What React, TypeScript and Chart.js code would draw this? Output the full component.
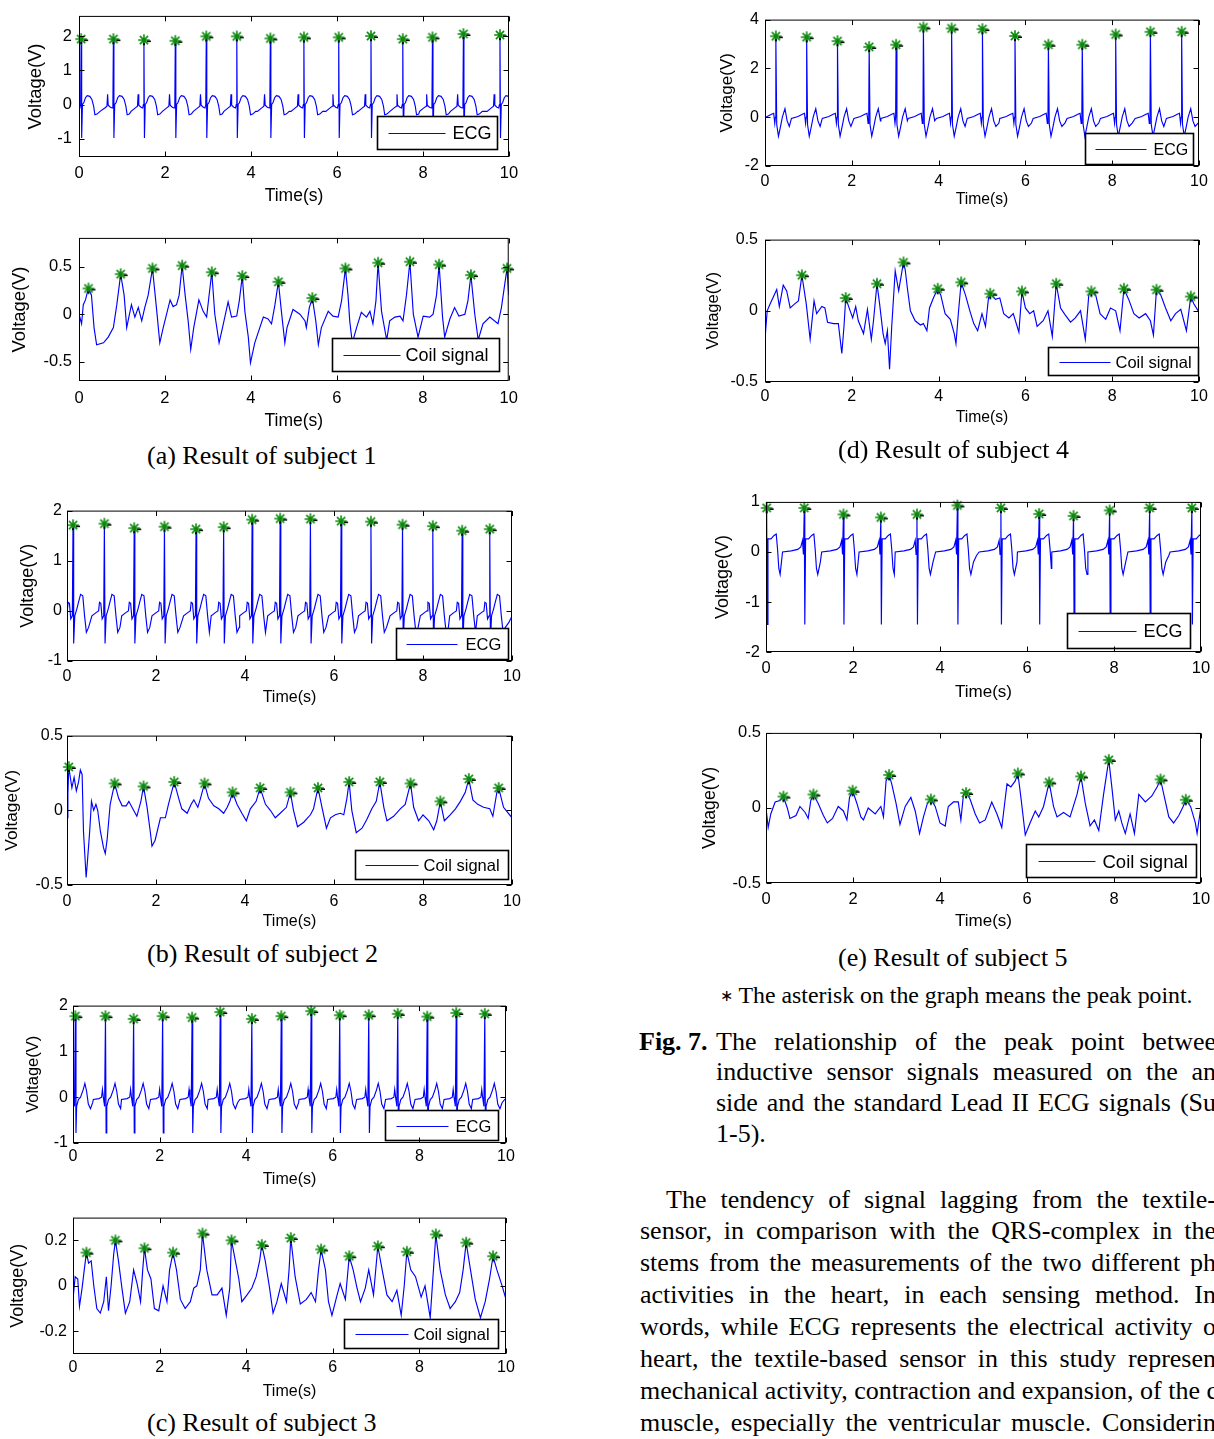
import React, { useEffect, useRef } from "react";
import { Chart, registerables } from "chart.js";

Chart.register(...registerables);

// ---------------- data ----------------
const timeTicks = [0, 2, 4, 6, 8, 10];

// Subject 1
const ecg1PeakTimes = [0.05, 0.80, 1.51, 2.24, 2.96, 3.67, 4.45, 5.23, 6.04, 6.79, 7.53, 8.22, 8.94, 9.79];
const ecg1PeakValues = [1.92, 1.92, 1.89, 1.87, 2.0, 2.0, 1.94, 1.97, 1.97, 2.01, 1.92, 1.97, 2.07, 2.04];
const ecg1BeatShape = [[-0.3, -0.2], [-0.2, -0.1], [-0.15, -0.05], [-0.135, 0.3], [-0.12, -0.02], [-0.07, -0.08], [-0.03, -0.1], [-0.012, 0.0], [0.012, -0.98], [0.03, 0.0], [0.06, 0.05], [0.1, 0.2], [0.14, 0.26], [0.2, 0.24], [0.25, 0.15], [0.29, -0.05], [0.32, -0.3], [0.37, -0.28], [0.44, -0.2], [0.55, -0.12], [0.65, -0.08]];
const ecg1YTicks = [-1, 0, 1, 2];
const coil1Signal = [[0, 0], [0.06, -0.10], [0.10, 0.10], [0.15, 0.15], [0.22, 0.27], [0.29, 0.20], [0.35, -0.14], [0.41, -0.32], [0.57, -0.30], [0.68, -0.24], [0.80, -0.14], [0.88, 0.10], [0.97, 0.42], [1.05, 0.20], [1.11, -0.14], [1.22, 0.10], [1.30, -0.03], [1.38, 0.07], [1.46, -0.07], [1.53, 0.07], [1.61, 0.20], [1.71, 0.48], [1.81, 0.03], [1.88, -0.30], [1.96, -0.14], [2.12, 0.15], [2.19, 0.08], [2.27, 0.10], [2.33, 0.20], [2.40, 0.51], [2.47, 0.20], [2.54, -0.07], [2.60, -0.37], [2.67, -0.14], [2.79, 0.15], [2.89, 0.03], [2.97, -0.03], [3.02, 0.17], [3.09, 0.44], [3.16, 0.0], [3.26, -0.30], [3.34, -0.14], [3.47, 0.13], [3.55, -0.03], [3.67, -0.02], [3.73, 0.14], [3.80, 0.40], [3.86, 0.03], [3.94, -0.24], [3.99, -0.51], [4.09, -0.30], [4.29, -0.03], [4.40, -0.05], [4.48, -0.10], [4.56, 0.10], [4.64, 0.34], [4.71, 0.03], [4.79, -0.30], [4.84, -0.14], [4.98, 0.05], [5.14, 0.0], [5.26, -0.07], [5.29, -0.14], [5.36, 0.07], [5.43, 0.17], [5.51, -0.07], [5.57, -0.32], [5.64, -0.14], [5.80, 0.03], [5.91, -0.02], [6.03, -0.03], [6.11, 0.14], [6.20, 0.48], [6.26, 0.20], [6.30, -0.07], [6.36, -0.30], [6.46, -0.14], [6.57, 0.02], [6.69, -0.03], [6.77, 0.03], [6.84, -0.10], [6.91, 0.14], [6.96, 0.54], [7.04, 0.03], [7.16, -0.27], [7.23, -0.07], [7.35, -0.03], [7.47, -0.02], [7.54, -0.07], [7.62, 0.20], [7.70, 0.55], [7.78, 0.0], [7.89, -0.24], [8.01, -0.02], [8.16, -0.03], [8.24, 0.0], [8.32, 0.20], [8.38, 0.52], [8.46, -0.03], [8.51, -0.24], [8.63, -0.05], [8.74, 0.07], [8.84, -0.02], [8.98, 0.0], [9.05, 0.14], [9.12, 0.41], [9.21, 0.0], [9.29, -0.27], [9.40, -0.10], [9.56, -0.03], [9.75, -0.10], [9.83, 0.07], [9.96, 0.48], [10.0, 0.20]];
const coil1PeakTimes = [0.22, 0.97, 1.71, 2.40, 3.09, 3.80, 4.64, 5.43, 6.20, 6.96, 7.70, 8.38, 9.12, 9.96];
const coil1PeakValues = [0.27, 0.42, 0.48, 0.51, 0.44, 0.40, 0.34, 0.17, 0.48, 0.54, 0.55, 0.52, 0.41, 0.48];
const coil1YTicks = [-0.5, 0, 0.5];

// Subject 2
const ecg2PeakTimes = [0.135, 0.84, 1.51, 2.19, 2.90, 3.52, 4.16, 4.79, 5.47, 6.16, 6.83, 7.54, 8.22, 8.88, 9.50];
const ecg2PeakValues = [1.71, 1.74, 1.65, 1.68, 1.63, 1.67, 1.82, 1.84, 1.83, 1.79, 1.78, 1.72, 1.69, 1.60, 1.63];
const ecg2BeatShape = [[-0.28, -0.1], [-0.18, -0.03], [-0.13, 0.0], [-0.11, 0.17], [-0.08, 0.15], [-0.05, -0.16], [-0.015, -0.1], [0.015, -0.65], [0.04, -0.1], [0.09, 0.05], [0.12, 0.16], [0.17, 0.33], [0.22, 0.3], [0.26, -0.1], [0.3, -0.43], [0.35, -0.33], [0.43, -0.23], [0.5, -0.1], [0.6, -0.03]];
const ecg2YTicks = [-1, 0, 1, 2];
const coil2Signal = [[0, -0.05], [0.02, 0.11], [0.04, 0.29], [0.11, 0.15], [0.16, 0.22], [0.21, 0.13], [0.26, 0.19], [0.30, 0.27], [0.34, 0.24], [0.37, -0.14], [0.43, -0.45], [0.46, -0.34], [0.51, -0.14], [0.55, 0.06], [0.60, 0.0], [0.65, 0.04], [0.69, 0.0], [0.75, -0.14], [0.82, -0.25], [0.86, -0.29], [0.90, -0.20], [0.97, 0.04], [1.07, 0.18], [1.16, 0.08], [1.24, 0.03], [1.33, 0.03], [1.39, 0.06], [1.46, 0.02], [1.57, -0.04], [1.66, 0.06], [1.72, 0.16], [1.80, 0.02], [1.87, -0.14], [1.91, -0.24], [1.98, -0.20], [2.10, -0.05], [2.21, -0.05], [2.28, 0.04], [2.41, 0.19], [2.51, 0.08], [2.58, 0.01], [2.70, -0.02], [2.79, 0.04], [2.85, 0.07], [2.94, 0.02], [3.00, 0.08], [3.09, 0.18], [3.18, 0.08], [3.30, 0.03], [3.41, 0.01], [3.52, -0.02], [3.60, 0.02], [3.66, 0.06], [3.72, 0.12], [3.82, 0.04], [3.93, -0.02], [4.03, -0.07], [4.12, 0.01], [4.25, 0.06], [4.34, 0.15], [4.46, 0.04], [4.57, 0.0], [4.68, -0.05], [4.79, -0.02], [4.93, 0.02], [5.02, 0.12], [5.09, 0.0], [5.18, -0.11], [5.32, -0.08], [5.47, -0.03], [5.54, 0.01], [5.64, 0.15], [5.73, 0.02], [5.83, -0.12], [5.92, -0.05], [6.03, -0.03], [6.14, -0.02], [6.22, -0.03], [6.29, 0.08], [6.34, 0.19], [6.40, 0.0], [6.50, -0.15], [6.63, -0.12], [6.74, -0.06], [6.85, 0.01], [6.95, 0.06], [7.03, 0.19], [7.12, 0.02], [7.19, -0.07], [7.34, -0.04], [7.49, 0.01], [7.60, 0.04], [7.72, 0.18], [7.79, 0.02], [7.90, -0.07], [8.00, -0.03], [8.13, -0.07], [8.24, -0.13], [8.31, -0.07], [8.39, 0.06], [8.48, -0.07], [8.61, -0.03], [8.73, 0.01], [8.84, 0.06], [8.95, 0.12], [9.03, 0.21], [9.12, 0.07], [9.23, 0.04], [9.36, 0.02], [9.50, 0.01], [9.57, -0.04], [9.66, 0.12], [9.70, 0.15], [9.81, 0.02], [10.0, -0.05]];
const coil2PeakTimes = [0.04, 1.07, 1.72, 2.41, 3.09, 3.72, 4.34, 5.02, 5.64, 6.34, 7.03, 7.72, 8.39, 9.03, 9.70];
const coil2PeakValues = [0.29, 0.18, 0.16, 0.19, 0.18, 0.12, 0.15, 0.12, 0.15, 0.19, 0.19, 0.18, 0.06, 0.21, 0.15];
const coil2YTicks = [-0.5, 0, 0.5];

// Subject 3
const ecg3PeakTimes = [0.054, 0.75, 1.40, 2.07, 2.75, 3.40, 4.13, 4.81, 5.50, 6.16, 6.83, 7.50, 8.18, 8.85, 9.51];
const ecg3PeakValues = [1.77, 1.77, 1.71, 1.77, 1.74, 1.86, 1.71, 1.77, 1.88, 1.79, 1.79, 1.82, 1.76, 1.84, 1.82];
const ecg3BeatShape = [[-0.28, -0.05], [-0.15, -0.03], [-0.09, 0.0], [-0.07, 0.17], [-0.05, 0.0], [-0.02, -0.2], [0.015, -0.78], [0.03, -0.2], [0.07, -0.05], [0.12, 0.0], [0.18, 0.16], [0.22, 0.3], [0.26, 0.13], [0.3, -0.15], [0.35, -0.25], [0.4, -0.12], [0.46, -0.05], [0.55, -0.03]];
const ecg3YTicks = [-1, 0, 1, 2];
const coil3Signal = [[0, -0.06], [0.05, 0.04], [0.11, 0.03], [0.15, -0.09], [0.21, -0.01], [0.26, 0.07], [0.31, 0.146], [0.36, 0.10], [0.42, 0.11], [0.48, 0.0], [0.55, -0.10], [0.63, -0.12], [0.71, -0.07], [0.77, 0.04], [0.82, -0.11], [0.88, 0.0], [0.94, 0.14], [0.98, 0.20], [1.05, 0.11], [1.13, -0.01], [1.21, -0.12], [1.31, -0.07], [1.40, 0.07], [1.48, 0.01], [1.56, -0.07], [1.61, 0.07], [1.65, 0.165], [1.72, 0.07], [1.80, 0.03], [1.88, -0.10], [1.98, -0.11], [2.08, 0.0], [2.17, -0.07], [2.23, 0.07], [2.31, 0.146], [2.39, 0.07], [2.48, -0.06], [2.59, -0.10], [2.71, -0.07], [2.79, -0.01], [2.86, 0.0], [2.94, 0.07], [2.99, 0.23], [3.09, 0.07], [3.21, -0.04], [3.33, -0.04], [3.44, -0.01], [3.54, -0.13], [3.62, -0.01], [3.66, 0.20], [3.75, 0.11], [3.83, 0.03], [3.90, -0.07], [4.02, -0.04], [4.13, -0.01], [4.23, 0.04], [4.31, 0.11], [4.36, 0.18], [4.44, 0.11], [4.54, -0.01], [4.62, -0.12], [4.71, -0.07], [4.81, 0.01], [4.93, -0.07], [4.99, 0.07], [5.03, 0.21], [5.13, 0.04], [5.25, -0.08], [5.39, -0.06], [5.50, -0.03], [5.60, -0.07], [5.67, 0.07], [5.73, 0.16], [5.83, 0.07], [5.90, -0.07], [5.98, -0.13], [6.10, -0.04], [6.17, 0.01], [6.29, -0.06], [6.38, 0.13], [6.47, 0.07], [6.56, -0.01], [6.64, -0.07], [6.75, -0.01], [6.83, 0.07], [6.94, -0.04], [7.04, 0.174], [7.14, 0.07], [7.25, -0.04], [7.37, -0.07], [7.48, -0.02], [7.58, -0.13], [7.65, 0.0], [7.71, 0.15], [7.80, 0.07], [7.91, 0.04], [8.04, -0.05], [8.13, 0.0], [8.25, -0.14], [8.31, 0.03], [8.38, 0.226], [8.48, 0.07], [8.60, -0.04], [8.71, -0.10], [8.83, -0.07], [8.93, -0.03], [9.01, 0.07], [9.08, 0.19], [9.18, 0.07], [9.29, -0.06], [9.41, -0.14], [9.52, -0.07], [9.62, 0.03], [9.70, 0.13], [9.79, 0.07], [9.91, 0.0], [10.0, -0.06]];
const coil3PeakTimes = [0.31, 0.98, 1.65, 2.31, 2.99, 3.66, 4.36, 5.03, 5.73, 6.38, 7.04, 7.71, 8.38, 9.08, 9.70];
const coil3PeakValues = [0.146, 0.20, 0.165, 0.146, 0.23, 0.20, 0.18, 0.21, 0.16, 0.13, 0.174, 0.15, 0.226, 0.19, 0.13];
const coil3YTicks = [-0.2, 0, 0.2];

// Subject 4
const ecg4PeakTimes = [0.25, 0.96, 1.67, 2.40, 3.02, 3.65, 4.30, 5.01, 5.76, 6.53, 7.31, 8.08, 8.88, 9.60];
const ecg4PeakValues = [3.32, 3.28, 3.12, 2.88, 2.97, 3.68, 3.64, 3.61, 3.33, 2.97, 2.97, 3.39, 3.50, 3.50];
const ecg4BeatShape = [[-0.35, -0.05], [-0.2, 0.03], [-0.1, 0.12], [-0.05, 0.16], [-0.025, -0.25], [-0.01, 0.0], [0.02, -0.3], [0.06, -0.78], [0.1, -0.45], [0.15, 0.0], [0.21, 0.35], [0.26, -0.15], [0.31, -0.38], [0.38, -0.24], [0.46, -0.1], [0.6, 0.0]];
const ecg4YTicks = [-2, 0, 2, 4];
const coil4Signal = [[0, -0.20], [0.05, 0.0], [0.12, 0.05], [0.21, 0.11], [0.27, 0.15], [0.33, 0.03], [0.42, 0.18], [0.50, 0.14], [0.58, 0.02], [0.69, 0.05], [0.77, 0.07], [0.85, 0.25], [0.95, 0.05], [1.04, -0.20], [1.13, 0.07], [1.19, -0.02], [1.31, 0.03], [1.38, 0.02], [1.44, -0.08], [1.58, -0.09], [1.69, -0.09], [1.77, -0.30], [1.82, -0.11], [1.86, 0.09], [1.95, 0.01], [2.02, -0.05], [2.09, 0.03], [2.15, -0.07], [2.27, -0.16], [2.36, 0.01], [2.45, -0.20], [2.50, -0.07], [2.58, 0.19], [2.64, 0.05], [2.72, -0.16], [2.77, -0.23], [2.82, -0.14], [2.87, -0.41], [2.92, -0.11], [3.00, 0.28], [3.08, 0.14], [3.19, 0.34], [3.23, 0.29], [3.28, 0.16], [3.35, 0.0], [3.46, -0.07], [3.58, -0.10], [3.65, -0.09], [3.73, -0.14], [3.79, 0.02], [3.88, 0.09], [3.98, 0.155], [4.05, 0.11], [4.15, -0.02], [4.27, -0.06], [4.36, -0.16], [4.40, -0.23], [4.46, 0.0], [4.52, 0.20], [4.62, 0.11], [4.72, 0.0], [4.81, -0.09], [4.90, -0.14], [5.00, -0.02], [5.08, -0.11], [5.15, 0.09], [5.19, 0.12], [5.31, 0.08], [5.41, 0.09], [5.50, -0.02], [5.62, -0.05], [5.72, -0.02], [5.85, -0.15], [5.92, 0.136], [6.00, 0.02], [6.10, -0.02], [6.19, 0.0], [6.27, -0.11], [6.41, -0.07], [6.52, 0.0], [6.62, -0.18], [6.71, 0.19], [6.81, 0.02], [6.92, -0.03], [7.04, -0.08], [7.15, -0.05], [7.27, 0.0], [7.38, -0.20], [7.46, 0.11], [7.52, 0.136], [7.62, 0.11], [7.72, -0.02], [7.85, -0.06], [7.96, 0.02], [8.08, 0.0], [8.18, -0.14], [8.27, 0.155], [8.38, 0.08], [8.50, -0.02], [8.62, -0.05], [8.77, -0.02], [8.88, -0.07], [8.95, -0.17], [9.02, 0.148], [9.12, 0.11], [9.23, 0.02], [9.35, -0.07], [9.46, -0.02], [9.58, 0.01], [9.71, -0.14], [9.81, 0.10], [9.88, 0.05], [10.0, -0.01]];
const coil4PeakTimes = [0.85, 1.86, 2.58, 3.19, 3.98, 4.52, 5.19, 5.92, 6.71, 7.52, 8.27, 9.02, 9.81];
const coil4PeakValues = [0.25, 0.09, 0.19, 0.34, 0.155, 0.20, 0.12, 0.136, 0.19, 0.136, 0.155, 0.148, 0.10];
const coil4YTicks = [-0.5, 0, 0.5];

// Subject 5
const ecg5PeakTimes = [0.015, 0.88, 1.78, 2.64, 3.47, 4.40, 5.40, 6.28, 7.07, 7.90, 8.82, 9.79];
const ecg5PeakValues = [0.88, 0.88, 0.75, 0.69, 0.75, 0.93, 0.88, 0.76, 0.72, 0.83, 0.88, 0.88];
const ecg5BeatShape = [[-0.5, 0.0], [-0.3, 0.02], [-0.15, 0.05], [-0.08, 0.1], [-0.04, 0.23], [-0.02, -0.05], [0.012, -1.45], [0.03, 0.26], [0.1, 0.26], [0.17, 0.33], [0.22, 0.36], [0.25, 0.06], [0.28, -0.33], [0.31, -0.45], [0.37, -0.2], [0.44, -0.07], [0.53, 0.0], [0.7, 0.02]];
const ecg5YTicks = [-2, -1, 0, 1];
const coil5Signal = [[0, 0.0], [0.05, -0.13], [0.11, -0.04], [0.21, 0.04], [0.32, 0.05], [0.40, 0.076], [0.49, 0.0], [0.55, -0.07], [0.69, -0.05], [0.78, 0.01], [0.90, -0.03], [0.97, -0.07], [1.03, 0.05], [1.09, 0.09], [1.20, 0.03], [1.32, -0.05], [1.41, -0.10], [1.53, -0.07], [1.66, 0.01], [1.78, -0.02], [1.86, -0.08], [1.92, 0.07], [1.99, 0.115], [2.09, 0.03], [2.18, -0.06], [2.24, -0.08], [2.35, 0.0], [2.51, -0.04], [2.64, 0.01], [2.70, -0.06], [2.76, 0.18], [2.83, 0.22], [2.89, 0.16], [2.99, 0.03], [3.08, -0.11], [3.20, 0.01], [3.33, 0.07], [3.43, -0.02], [3.53, -0.17], [3.62, -0.06], [3.71, 0.03], [3.79, 0.057], [3.89, 0.01], [4.00, -0.10], [4.12, -0.12], [4.19, 0.01], [4.31, 0.04], [4.42, 0.04], [4.48, -0.08], [4.54, 0.09], [4.60, 0.10], [4.69, 0.06], [4.81, -0.04], [4.91, -0.10], [5.04, -0.08], [5.19, 0.04], [5.31, -0.04], [5.42, -0.13], [5.54, 0.16], [5.63, 0.14], [5.73, 0.18], [5.79, 0.23], [5.86, 0.07], [5.96, -0.18], [6.07, -0.10], [6.19, -0.02], [6.27, -0.06], [6.38, 0.01], [6.51, 0.17], [6.61, 0.01], [6.69, -0.06], [6.84, -0.03], [6.99, -0.06], [7.15, 0.09], [7.24, 0.21], [7.34, 0.03], [7.45, -0.12], [7.55, -0.08], [7.65, -0.15], [7.76, 0.09], [7.88, 0.32], [7.95, 0.14], [8.03, -0.08], [8.11, -0.02], [8.18, -0.10], [8.26, -0.17], [8.37, -0.04], [8.47, -0.17], [8.57, 0.09], [8.72, 0.04], [8.87, 0.08], [8.99, 0.14], [9.07, 0.19], [9.16, 0.07], [9.26, -0.06], [9.37, -0.10], [9.49, -0.05], [9.59, 0.01], [9.65, 0.055], [9.76, 0.01], [9.87, -0.10], [9.91, -0.17], [10.0, 0.01]];
const coil5PeakTimes = [0.40, 1.09, 1.99, 2.83, 3.79, 4.60, 5.79, 6.51, 7.24, 7.88, 9.07, 9.65];
const coil5PeakValues = [0.076, 0.09, 0.115, 0.22, 0.057, 0.10, 0.23, 0.17, 0.21, 0.32, 0.19, 0.055];
const coil5YTicks = [-0.5, 0, 0.5];

const captions = ["(a) Result of subject 1", "(b) Result of subject 2", "(c) Result of subject 3", "(d) Result of subject 4", "(e) Result of subject 5"];
const noteMark = "\u2217";
const noteText = " The asterisk on the graph means the peak point.";
const figLines = [
  "The relationship of the peak point betwee",
  "inductive sensor signals measured on the an",
  "side and the standard Lead II ECG signals (Su",
  "1-5).",
];
const paraLines = [
  "The tendency of signal lagging from the textile-",
  "sensor, in comparison with the QRS-complex in the",
  "stems from the measurements of the two different ph",
  "activities in the heart, in each sensing method. In",
  "words, while ECG represents the electrical activity o",
  "heart, the textile-based sensor in this study represen",
  "mechanical activity, contraction and expansion, of the c",
  "muscle, especially the ventricular muscle. Considerin",
];

// ---------------- helpers ----------------
type Pt = { x: number; y: number };

function buildEcg(peakT: number[], peakV: number[], shape: number[][]): Pt[] {
  const pts: Pt[] = [];
  const head = shape[0][0];
  peakT.forEach((t, i) => {
    const limit = i + 1 < peakT.length ? peakT[i + 1] + head : Infinity;
    const beat: Pt[] = [
      ...shape.filter((p) => p[0] < 0).map((p) => ({ x: t + p[0], y: p[1] })),
      { x: t, y: peakV[i] },
      ...shape.filter((p) => p[0] > 0).map((p) => ({ x: t + p[0], y: p[1] })),
    ];
    beat.forEach((p) => {
      if (p.x < limit && (pts.length === 0 || p.x > pts[pts.length - 1].x)) pts.push(p);
    });
  });
  return pts;
}
const pairs = (arr: number[][]): Pt[] => arr.map((p) => ({ x: p[0], y: p[1] }));

type LegendBox = { right: number; bottom: number; w: number; h: number; lineOff: number; lineLen: number; textGap: number };
type Panel = {
  left: number; top: number; width: number; height: number;
  yMin: number; yMax: number; yTicks: number[];
  line: Pt[]; peaksX: number[]; peaksY: number[]; legend: string;
  tickFont: number; xTitleFont: number; yTitleFont: number; legendFont: number;
  yTitleOff: number; xTitleOff: number; xTickOff: number; yTickPad: number;
  box: LegendBox;
};

const panels: Panel[] = [
  { left: 79, top: 11, width: 430, height: 146, yMin: -1.54, yMax: 2.6, yTicks: ecg1YTicks,
    line: buildEcg(ecg1PeakTimes, ecg1PeakValues, ecg1BeatShape), peaksX: ecg1PeakTimes, peaksY: ecg1PeakValues, legend: "ECG",
    tickFont: 16.5, xTitleFont: 17.5, yTitleFont: 18.4, legendFont: 18, yTitleOff: 43, xTitleOff: 39, xTickOff: 16, yTickPad: 7,
    box: { right: 12, bottom: 8, w: 120, h: 33, lineOff: 11, lineLen: 57, textGap: 7 } },
  { left: 79, top: 233, width: 430, height: 148, yMin: -0.7, yMax: 0.8, yTicks: coil1YTicks,
    line: pairs(coil1Signal), peaksX: coil1PeakTimes, peaksY: coil1PeakValues, legend: "Coil signal",
    tickFont: 16.5, xTitleFont: 17.5, yTitleFont: 18.4, legendFont: 18, yTitleOff: 59, xTitleOff: 40, xTickOff: 17, yTickPad: 7,
    box: { right: 10, bottom: 10, w: 167, h: 33, lineOff: 11, lineLen: 57, textGap: 5 } },
  { left: 67, top: 508, width: 445, height: 153, yMin: -1, yMax: 2, yTicks: ecg2YTicks,
    line: buildEcg(ecg2PeakTimes, ecg2PeakValues, ecg2BeatShape), peaksX: ecg2PeakTimes, peaksY: ecg2PeakValues, legend: "ECG",
    tickFont: 16, xTitleFont: 16, yTitleFont: 18, legendFont: 16.5, yTitleOff: 39, xTitleOff: 37, xTickOff: 16, yTickPad: 5,
    box: { right: 4, bottom: 2, w: 112, h: 31, lineOff: 10, lineLen: 51, textGap: 8 } },
  { left: 67, top: 734, width: 445, height: 151, yMin: -0.5, yMax: 0.5, yTicks: coil2YTicks,
    line: pairs(coil2Signal), peaksX: coil2PeakTimes, peaksY: coil2PeakValues, legend: "Coil signal",
    tickFont: 16, xTitleFont: 16, yTitleFont: 17.3, legendFont: 16.5, yTitleOff: 55, xTitleOff: 37, xTickOff: 16.7, yTickPad: 4,
    box: { right: 4, bottom: 6, w: 153, h: 29, lineOff: 10, lineLen: 53, textGap: 5 } },
  { left: 73, top: 1003, width: 433, height: 140, yMin: -1, yMax: 2, yTicks: ecg3YTicks,
    line: buildEcg(ecg3PeakTimes, ecg3PeakValues, ecg3BeatShape), peaksX: ecg3PeakTimes, peaksY: ecg3PeakValues, legend: "ECG",
    tickFont: 16, xTitleFont: 16, yTitleFont: 16.5, legendFont: 16.5, yTitleOff: 40, xTitleOff: 37, xTickOff: 14, yTickPad: 5,
    box: { right: 8, bottom: 3, w: 113, h: 30, lineOff: 11, lineLen: 52, textGap: 7 } },
  { left: 73, top: 1214, width: 433, height: 140, yMin: -0.3, yMax: 0.3, yTicks: coil3YTicks,
    line: pairs(coil3Signal), peaksX: coil3PeakTimes, peaksY: coil3PeakValues, legend: "Coil signal",
    tickFont: 16, xTitleFont: 16, yTitleFont: 18, legendFont: 16.5, yTitleOff: 55, xTitleOff: 38, xTickOff: 14, yTickPad: 6,
    box: { right: 8, bottom: 6, w: 154, h: 29, lineOff: 11, lineLen: 53, textGap: 5 } },
  { left: 765, top: 16, width: 434, height: 150, yMin: -2, yMax: 4, yTicks: ecg4YTicks,
    line: buildEcg(ecg4PeakTimes, ecg4PeakValues, ecg4BeatShape), peaksX: ecg4PeakTimes, peaksY: ecg4PeakValues, legend: "ECG",
    tickFont: 16, xTitleFont: 15.7, yTitleFont: 17, legendFont: 16, yTitleOff: 38, xTitleOff: 34, xTickOff: 16, yTickPad: 6,
    box: { right: 6, bottom: 2, w: 108, h: 31, lineOff: 10, lineLen: 51, textGap: 7 } },
  { left: 765, top: 235, width: 434, height: 147, yMin: -0.5, yMax: 0.5, yTicks: coil4YTicks,
    line: pairs(coil4Signal), peaksX: coil4PeakTimes, peaksY: coil4PeakValues, legend: "Coil signal",
    tickFont: 16, xTitleFont: 15.7, yTitleFont: 16.6, legendFont: 16.5, yTitleOff: 52, xTitleOff: 36, xTickOff: 15, yTickPad: 7,
    box: { right: 1, bottom: 7, w: 150, h: 28, lineOff: 11, lineLen: 51, textGap: 5 } },
  { left: 766, top: 498, width: 435, height: 154, yMin: -2, yMax: 1, yTicks: ecg5YTicks,
    line: buildEcg(ecg5PeakTimes, ecg5PeakValues, ecg5BeatShape), peaksX: ecg5PeakTimes, peaksY: ecg5PeakValues, legend: "ECG",
    tickFont: 16.5, xTitleFont: 17, yTitleFont: 18, legendFont: 18, yTitleOff: 43, xTitleOff: 40, xTickOff: 16, yTickPad: 6,
    box: { right: 11, bottom: 4, w: 123, h: 35, lineOff: 11, lineLen: 58, textGap: 7 } },
  { left: 766, top: 730, width: 435, height: 153, yMin: -0.5, yMax: 0.5, yTicks: coil5YTicks,
    line: pairs(coil5Signal), peaksX: coil5PeakTimes, peaksY: coil5PeakValues, legend: "Coil signal",
    tickFont: 16.5, xTitleFont: 17, yTitleFont: 17.6, legendFont: 18.5, yTitleOff: 56, xTitleOff: 38, xTickOff: 16, yTickPad: 5,
    box: { right: 5, bottom: 6, w: 170, h: 33, lineOff: 12, lineLen: 57, textGap: 7 } },
];

const SANS = "'Liberation Sans', Arial, Helvetica, sans-serif";
const SERIF = "'Liberation Serif', 'Times New Roman', Times, serif";
const PL = 72, PT = 12, PR = 16, PB = 52;

function makeStar(): HTMLCanvasElement {
  const c = document.createElement("canvas");
  c.width = 20; c.height = 20;
  const g = c.getContext("2d")!;
  const cx = 10, cy = 10, r = 5.8;
  g.strokeStyle = "#0b8a0b";
  g.lineWidth = 1.6;
  g.beginPath();
  for (let k = 0; k < 4; k++) {
    const a = (k * Math.PI) / 4;
    g.moveTo(cx - r * Math.cos(a), cy - r * Math.sin(a));
    g.lineTo(cx + r * Math.cos(a), cy + r * Math.sin(a));
  }
  g.stroke();
  g.fillStyle = "#000";
  g.fillRect(cx + 3, cy + 0.5, 4, 1.5);
  g.fillRect(cx - 1, cy + 3, 2, 2);
  return c;
}

function ChartPanel({ p }: { p: Panel }) {
  const ref = useRef<HTMLCanvasElement>(null);
  const cw = p.width + PL + PR;
  const ch = p.height + PT + PB;
  useEffect(() => {
    const canvas = ref.current!;
    const star = makeStar();
    const frame = {
      id: "frameLegend",
      afterDatasetsDraw(chart: any) {
        const ctx = chart.ctx as CanvasRenderingContext2D;
        const ca = chart.chartArea;
        ctx.save();
        const b = p.box;
        const bx = Math.round(ca.right - b.right - b.w) + 0.5;
        const by = Math.round(ca.bottom - b.bottom - b.h) + 0.5;
        ctx.fillStyle = "#fff";
        ctx.fillRect(bx, by, b.w, b.h);
        ctx.strokeStyle = "#000";
        ctx.lineWidth = 1.6;
        ctx.strokeRect(bx, by, b.w, b.h);
        const ly = Math.round(by + b.h / 2) + 0.5;
        ctx.strokeStyle = "#0000ff";
        ctx.lineWidth = 1;
        ctx.beginPath();
        ctx.moveTo(bx + b.lineOff, ly);
        ctx.lineTo(bx + b.lineOff + b.lineLen, ly);
        ctx.stroke();
        ctx.fillStyle = "#000";
        ctx.font = `${p.legendFont}px ${SANS}`;
        ctx.textAlign = "left";
        ctx.textBaseline = "middle";
        ctx.fillText(p.legend, bx + b.lineOff + b.lineLen + b.textGap, ly + 1);
        ctx.strokeStyle = "#000";
        ctx.lineWidth = 1;
        const l = ca.left + 0.5, t = ca.top + 0.5, r = ca.right - 0.5, bt = ca.bottom - 0.5;
        ctx.strokeRect(l, t, r - l, bt - t);
        ctx.beginPath();
        const xs = chart.scales.x, ys = chart.scales.y;
        xs.ticks.forEach((tk: any) => {
          const x = Math.round(xs.getPixelForValue(tk.value)) + 0.5;
          ctx.moveTo(x, bt); ctx.lineTo(x, bt - 5);
          ctx.moveTo(x, t); ctx.lineTo(x, t + 5);
        });
        ys.ticks.forEach((tk: any) => {
          const y = Math.round(ys.getPixelForValue(tk.value)) + 0.5;
          ctx.moveTo(l, y); ctx.lineTo(l + 5, y);
          ctx.moveTo(r, y); ctx.lineTo(r - 5, y);
        });
        ctx.stroke();
        ctx.restore();
      },
    };
    const chart = new Chart(canvas, {
      type: "line",
      data: {
        datasets: [
          {
            data: p.peaksX.map((x, i) => ({ x, y: p.peaksY[i] })),
            showLine: false,
            pointStyle: star as any,
            pointRadius: 6,
            pointHoverRadius: 6,
            borderColor: "transparent",
            backgroundColor: "transparent",
            clip: false as any,
          },
          {
            data: p.line,
            borderColor: "#0000ff",
            borderWidth: 1.15,
            pointRadius: 0,
            fill: false,
            tension: 0,
          },
        ],
      },
      options: {
        responsive: false,
        maintainAspectRatio: false,
        animation: false,
        devicePixelRatio: 1,
        events: [],
        layout: { padding: { left: 0, top: PT, right: PR, bottom: 0 } },
        plugins: { legend: { display: false }, tooltip: { enabled: false } },
        scales: {
          x: {
            type: "linear",
            min: 0,
            max: 10,
            position: "bottom",
            afterBuildTicks: (s: any) => { s.ticks = timeTicks.map((v) => ({ value: v })); },
            afterFit: (s: any) => { s.height = PB; },
            grid: { display: false, drawTicks: false },
            border: { display: false },
            ticks: {
              color: "#000",
              font: { family: SANS, size: p.tickFont },
              padding: p.xTickOff - p.tickFont * 0.6,
              maxRotation: 0,
              autoSkip: false,
              callback: (v: any) => String(v),
            },
            title: {
              display: true,
              text: "Time(s)",
              color: "#000",
              font: { family: SANS, size: p.xTitleFont },
              padding: { top: 0, bottom: PB - p.xTitleOff - p.xTitleFont * 0.6 },
            },
          },
          y: {
            type: "linear",
            min: p.yMin,
            max: p.yMax,
            position: "left",
            afterBuildTicks: (s: any) => { s.ticks = p.yTicks.map((v) => ({ value: v })); },
            afterFit: (s: any) => { s.width = PL; },
            grid: { display: false, drawTicks: false },
            border: { display: false },
            ticks: {
              color: "#000",
              font: { family: SANS, size: p.tickFont },
              padding: p.yTickPad,
              autoSkip: false,
              callback: (v: any) => String(v),
            },
            title: {
              display: true,
              text: "Voltage(V)",
              color: "#000",
              font: { family: SANS, size: p.yTitleFont },
              padding: { top: PL - p.yTitleOff - p.yTitleFont * 0.6, bottom: 0 },
            },
          },
        },
      } as any,
      plugins: [frame],
    });
    return () => chart.destroy();
  }, []);
  return (
    <canvas
      ref={ref}
      width={cw}
      height={ch}
      style={{ position: "absolute", left: p.left - PL, top: p.top - PT, width: cw, height: ch }}
    />
  );
}

const captionPos = [
  { left: 147, cy: 457 },
  { left: 147, cy: 955 },
  { left: 147, cy: 1424 },
  { left: 838, cy: 451 },
  { left: 838, cy: 959 },
];
const figLineY = [1043, 1073, 1104, 1135];
const paraLineY = [1201, 1232, 1264, 1296, 1328, 1360, 1392, 1424];

function TextLine({ children, left, cy, size, justify, bold, right }: { children: React.ReactNode; left: number; cy: number; size: number; justify?: boolean; bold?: boolean; right?: number }) {
  const lh = Math.round(size * 1.25);
  const style: React.CSSProperties = {
    position: "absolute",
    left,
    top: cy - lh / 2 - size * 0.05,
    height: lh,
    lineHeight: `${lh}px`,
    fontFamily: SERIF,
    fontSize: size,
    fontWeight: bold ? "bold" : "normal",
    color: "#000",
    whiteSpace: "nowrap",
  };
  if (justify && right !== undefined) {
    style.width = right - left;
    style.textAlign = "justify";
    (style as any).textAlignLast = "justify";
  }
  return <div style={style}>{children}</div>;
}

export default function App() {
  return (
    <div style={{ position: "absolute", left: 0, top: 0, width: 1214, height: 1439, overflow: "hidden", background: "#fff" }}>
      {panels.map((p, i) => <ChartPanel key={i} p={p} />)}
      {captions.map((c, i) => (
        <TextLine key={c} left={captionPos[i].left} cy={captionPos[i].cy} size={26}>{c}</TextLine>
      ))}
      <TextLine left={720} cy={996} size={23.8}>
        <span style={{ fontSize: 16, fontWeight: 300, verticalAlign: "2px" }}>{noteMark}</span>
        {noteText}
      </TextLine>
      <TextLine left={639} cy={figLineY[0]} size={26} bold>Fig. 7.</TextLine>
      {figLines.map((t, i) => (
        <TextLine key={t} left={716} cy={figLineY[i]} size={26} justify={i < 3} right={1216}>{t}</TextLine>
      ))}
      {paraLines.map((t, i) => (
        <TextLine key={t} left={i === 0 ? 666 : 640} cy={paraLineY[i]} size={26} justify right={1216}>{t}</TextLine>
      ))}
    </div>
  );
}
